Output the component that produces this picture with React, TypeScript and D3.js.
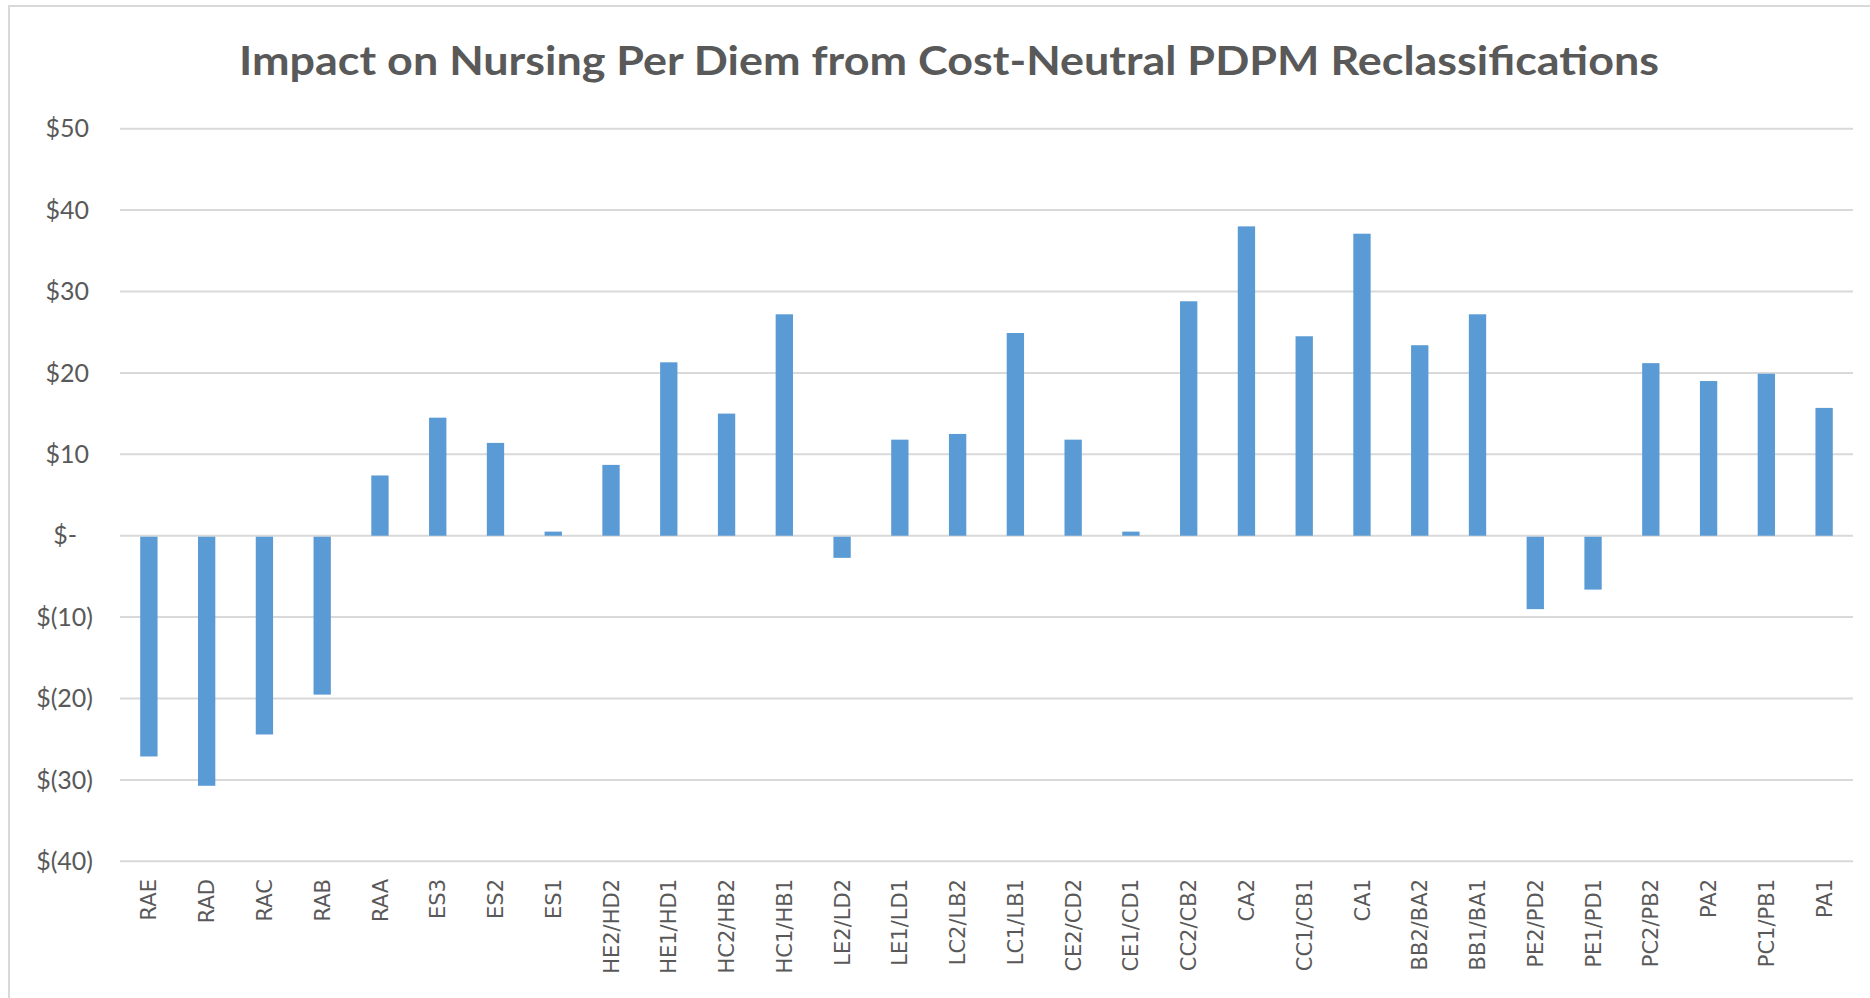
import { useEffect, useRef } from "react";
import * as d3 from "d3";

const width = 1870;
const height = 998;

const categories = [
  "RAE", "RAD", "RAC", "RAB", "RAA", "ES3", "ES2", "ES1",
  "HE2/HD2", "HE1/HD1", "HC2/HB2", "HC1/HB1",
  "LE2/LD2", "LE1/LD1", "LC2/LB2", "LC1/LB1",
  "CE2/CD2", "CE1/CD1", "CC2/CB2", "CA2", "CC1/CB1", "CA1",
  "BB2/BA2", "BB1/BA1", "PE2/PD2", "PE1/PD1", "PC2/PB2", "PA2", "PC1/PB1", "PA1",
];

const impact = [
  -27.0, -30.6, -24.3, -19.4, 7.4, 14.5, 11.4, 0.5,
  8.7, 21.3, 15.0, 27.2,
  -2.6, 11.8, 12.5, 24.9,
  11.8, 0.5, 28.8, 38.0, 24.5, 37.1,
  23.4, 27.2, -8.9, -6.5, 21.2, 19.0, 19.9, 15.7,
];

const tickValues = [-40, -30, -20, -10, 0, 10, 20, 30, 40, 50];
const tickLabels = ["$(40)", "$(30)", "$(20)", "$(10)", "$-", "$10", "$20", "$30", "$40", "$50"];

const title = "Impact on Nursing Per Diem from Cost-Neutral PDPM Reclassifications";

const margin = { left: 120, right: 17, top: 128.7, bottom: 136.7 };

const App = () => {
  const chartRef = useRef<SVGSVGElement>(null);

  useEffect(() => {
    drawChart();
  }, []);

  const drawChart = () => {
    const svg = d3.select(chartRef.current);
    svg.selectAll("*").remove();

    const data = categories.map((c, i) => ({ cat: c, value: impact[i] }));

    const x = d3.scaleBand()
      .domain(categories)
      .range([margin.left, width - margin.right])
      .paddingInner(0.7)
      .paddingOuter(0.35);

    const y = d3.scaleLinear()
      .domain([-40, 50])
      .range([height - margin.bottom, margin.top]);

    // chart frame
    svg.append("rect")
      .attr("x", 9)
      .attr("y", 6)
      .attr("width", width + 20)
      .attr("height", height + 20)
      .attr("fill", "#fff")
      .attr("stroke", "#d9d9d9")
      .attr("stroke-width", 2);

    svg.append("text")
      .attr("x", 949)
      .attr("y", 75)
      .attr("text-anchor", "middle")
      .attr("textLength", 1420)
      .attr("lengthAdjust", "spacingAndGlyphs")
      .style("font-family", "Lato")
      .style("font-weight", "bold")
      .style("font-size", "40px")
      .attr("fill", "#595959")
      .text(title);

    // gridlines
    svg.append("g")
      .selectAll("line")
      .data(tickValues)
      .enter().append("line")
      .attr("x1", margin.left)
      .attr("x2", width - margin.right)
      .attr("y1", d => y(d))
      .attr("y2", d => y(d))
      .attr("stroke", "#d9d9d9")
      .attr("stroke-width", 2);

    // y labels, accounting style alignment
    svg.append("g")
      .selectAll("text")
      .data(tickValues)
      .enter().append("text")
      .attr("x", d => (d < 0 ? 93 : d === 0 ? 77 : 89))
      .attr("y", d => y(d))
      .attr("dy", "0.35em")
      .attr("text-anchor", "end")
      .style("font-family", "Lato")
      .style("font-size", "25px")
      .attr("fill", "#595959")
      .text((d, i) => tickLabels[i]);

    // bars
    svg.append("g")
      .selectAll("rect")
      .data(data)
      .enter().append("rect")
      .attr("x", d => x(d.cat)!)
      .attr("width", x.bandwidth())
      .attr("y", d => y(Math.max(0, d.value)) + (d.value < 0 ? 1 : 0))
      .attr("height", d => Math.abs(y(d.value) - y(0)))
      .attr("fill", "#5b9bd5");

    // x labels
    svg.append("g")
      .selectAll("text")
      .data(categories)
      .enter().append("text")
      .attr("transform", d => `translate(${x(d)! + x.bandwidth() / 2},879) rotate(-90)`)
      .attr("dy", "0.36em")
      .attr("text-anchor", "end")
      .style("font-family", "DejaVu Sans")
      .style("font-size", "21px")
      .attr("fill", "#595959")
      .text(d => d);
  };

  return (
    <svg
      ref={chartRef}
      width={width}
      height={height}
      style={{ position: "absolute", left: 0, top: 0, display: "block", background: "#fff" }}
    ></svg>
  );
};

export default App;
